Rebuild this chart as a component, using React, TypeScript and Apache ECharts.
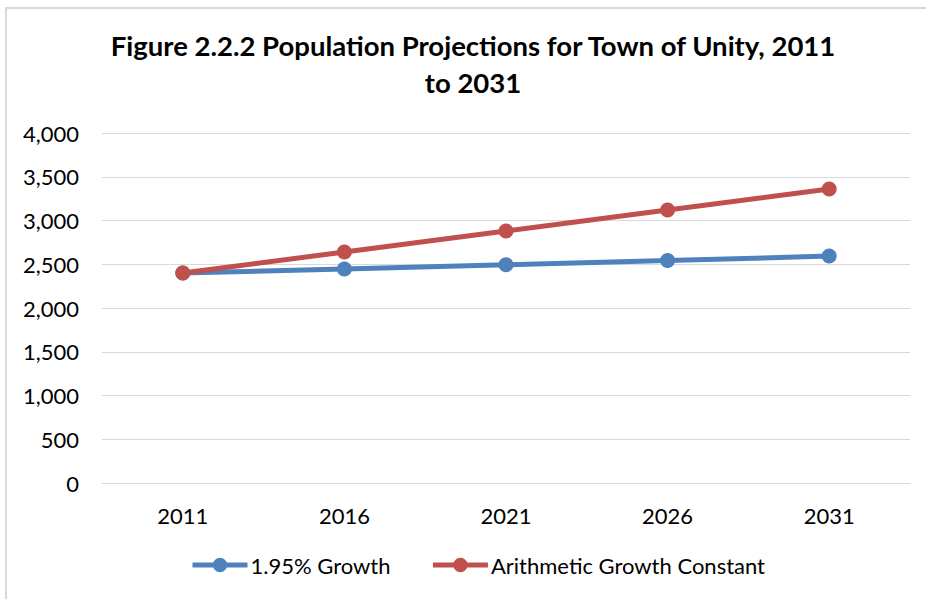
import React, { useEffect, useRef } from "react";
import * as echarts from "echarts";

const categories = ["2011", "2016", "2021", "2026", "2031"];
const growthSeries = [2400, 2447, 2494, 2543, 2593];
const arithmeticSeries = [2400, 2640, 2880, 3120, 3360];
const seriesNames = ["1.95% Growth", "Arithmetic Growth Constant"];
const titleText = "Figure 2.2.2 Population Projections for Town of Unity, 2011\nto 2031";

export default function App() {
  const ref = useRef<HTMLDivElement>(null);
  useEffect(() => {
    document.body.style.margin = "0";
    const chart = echarts.init(ref.current!, null, { renderer: "svg" });
    const font = "Lato, 'Open Sans', sans-serif";
    chart.setOption({
      animation: false,
      backgroundColor: "#ffffff",
      title: {
        text: titleText,
        left: 473,
        top: 27,
        textAlign: "center",
        padding: 0,
        textStyle: {
          fontFamily: font,
          fontWeight: "bold",
          fontSize: 27.5,
          lineHeight: 37,
          color: "#000000",
        },
      },
      grid: { left: 102, right: 16, top: 133, bottom: 116, containLabel: false },
      legend: {
        left: 190,
        top: 554,
        padding: 0,
        itemWidth: 55,
        itemHeight: 18,
        itemGap: 40,
        lineStyle: { width: 5 },
        textStyle: { fontFamily: font, fontSize: 22, color: "#000000", padding: [0, 0, 0, -2] },
        data: seriesNames,
      },
      xAxis: {
        type: "category",
        data: categories,
        boundaryGap: true,
        axisLine: { show: true, lineStyle: { color: "#d9d9d9", width: 1 } },
        axisTick: { show: false },
        axisLabel: { margin: 21, fontFamily: font, fontSize: 22, color: "#000000" },
      },
      yAxis: {
        type: "value",
        min: 0,
        max: 4000,
        interval: 500,
        axisLine: { show: false },
        axisTick: { show: false },
        splitLine: { lineStyle: { color: "#d9d9d9", width: 1 } },
        axisLabel: {
          margin: 23,
          fontFamily: font,
          fontSize: 22,
          color: "#000000",
          formatter: (v: number) => v.toLocaleString("en-US"),
        },
      },
      series: [
        {
          name: seriesNames[0],
          type: "line",
          data: growthSeries,
          symbol: "circle",
          symbolSize: 15,
          lineStyle: { width: 5, color: "#4F81BD" },
          itemStyle: { color: "#4F81BD" },
        },
        {
          name: seriesNames[1],
          type: "line",
          data: arithmeticSeries,
          symbol: "circle",
          symbolSize: 15,
          lineStyle: { width: 5, color: "#C0504D" },
          itemStyle: { color: "#C0504D" },
        },
      ],
    });
    return () => chart.dispose();
  }, []);
  return (
    <div style={{ position: "relative", width: 926, height: 599, overflow: "hidden", background: "#fff" }}>
      <div ref={ref} style={{ position: "absolute", left: 0, top: 0, width: 926, height: 599 }} />
      <div
        style={{
          position: "absolute",
          left: 5,
          top: 7,
          width: 1000,
          height: 1000,
          borderLeft: "2px solid #d9d9d9",
          borderTop: "2px solid #d9d9d9",
          pointerEvents: "none",
        }}
      />
    </div>
  );
}
